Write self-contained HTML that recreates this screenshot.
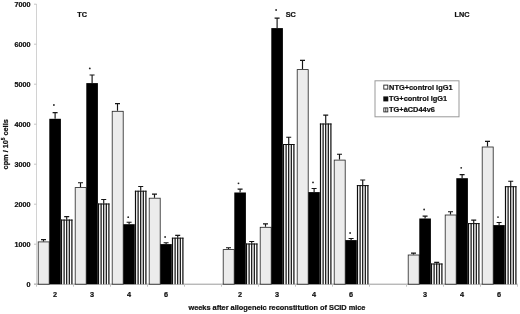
<!DOCTYPE html>
<html><head><meta charset="utf-8"><title>chart</title>
<style>
html,body{margin:0;padding:0;background:#fff;}
body{width:520px;height:314px;overflow:hidden;}
svg{display:block;}
text{font-family:"Liberation Sans",Arial,sans-serif;font-weight:bold;fill:#111;stroke:#111;stroke-width:0.22px;}
</style></head><body>
<svg width="520" height="314" viewBox="0 0 520 314">
<defs>
<filter id="bl" x="-5%" y="-5%" width="110%" height="110%"><feGaussianBlur stdDeviation="0.35"/></filter>
</defs>
<rect width="520" height="314" fill="#fff"/>
<g filter="url(#bl)">

<line x1="36.5" y1="4" x2="36.5" y2="284.2" stroke="#d2d2d2" stroke-width="1"/>
<line x1="34.0" y1="284.2" x2="517.5" y2="284.2" stroke="#9a9a9a" stroke-width="1"/>
<line x1="34.0" y1="284.2" x2="36.5" y2="284.2" stroke="#c4c4c4" stroke-width="1"/>
<text x="30.6" y="286.6" font-size="7.2" text-anchor="end">0</text>
<line x1="34.0" y1="244.2" x2="36.5" y2="244.2" stroke="#c4c4c4" stroke-width="1"/>
<text x="30.6" y="246.6" font-size="7.2" text-anchor="end">1000</text>
<line x1="34.0" y1="204.2" x2="36.5" y2="204.2" stroke="#c4c4c4" stroke-width="1"/>
<text x="30.6" y="206.6" font-size="7.2" text-anchor="end">2000</text>
<line x1="34.0" y1="164.2" x2="36.5" y2="164.2" stroke="#c4c4c4" stroke-width="1"/>
<text x="30.6" y="166.6" font-size="7.2" text-anchor="end">3000</text>
<line x1="34.0" y1="124.2" x2="36.5" y2="124.2" stroke="#c4c4c4" stroke-width="1"/>
<text x="30.6" y="126.6" font-size="7.2" text-anchor="end">4000</text>
<line x1="34.0" y1="84.2" x2="36.5" y2="84.2" stroke="#c4c4c4" stroke-width="1"/>
<text x="30.6" y="86.6" font-size="7.2" text-anchor="end">5000</text>
<line x1="34.0" y1="44.2" x2="36.5" y2="44.2" stroke="#c4c4c4" stroke-width="1"/>
<text x="30.6" y="46.6" font-size="7.2" text-anchor="end">6000</text>
<line x1="34.0" y1="4.2" x2="36.5" y2="4.2" stroke="#c4c4c4" stroke-width="1"/>
<text x="30.6" y="6.6" font-size="7.2" text-anchor="end">7000</text>
<line x1="36.5" y1="284.2" x2="36.5" y2="286.7" stroke="#c4c4c4" stroke-width="1"/>
<line x1="73.5" y1="284.2" x2="73.5" y2="286.7" stroke="#c4c4c4" stroke-width="1"/>
<line x1="110.5" y1="284.2" x2="110.5" y2="286.7" stroke="#c4c4c4" stroke-width="1"/>
<line x1="147.5" y1="284.2" x2="147.5" y2="286.7" stroke="#c4c4c4" stroke-width="1"/>
<line x1="184.5" y1="284.2" x2="184.5" y2="286.7" stroke="#c4c4c4" stroke-width="1"/>
<line x1="221.5" y1="284.2" x2="221.5" y2="286.7" stroke="#c4c4c4" stroke-width="1"/>
<line x1="258.5" y1="284.2" x2="258.5" y2="286.7" stroke="#c4c4c4" stroke-width="1"/>
<line x1="295.5" y1="284.2" x2="295.5" y2="286.7" stroke="#c4c4c4" stroke-width="1"/>
<line x1="332.5" y1="284.2" x2="332.5" y2="286.7" stroke="#c4c4c4" stroke-width="1"/>
<line x1="369.5" y1="284.2" x2="369.5" y2="286.7" stroke="#c4c4c4" stroke-width="1"/>
<line x1="406.5" y1="284.2" x2="406.5" y2="286.7" stroke="#c4c4c4" stroke-width="1"/>
<line x1="443.5" y1="284.2" x2="443.5" y2="286.7" stroke="#c4c4c4" stroke-width="1"/>
<line x1="480.5" y1="284.2" x2="480.5" y2="286.7" stroke="#c4c4c4" stroke-width="1"/>
<line x1="517.5" y1="284.2" x2="517.5" y2="286.7" stroke="#c4c4c4" stroke-width="1"/>
<rect x="38.20" y="241.90" width="11.00" height="42.30" fill="#ececec" stroke="#222" stroke-width="0.8"/>
<path d="M43.50 241.40V239.60M41.00 239.60H46.00" stroke="#151515" stroke-width="1.15" fill="none"/>
<rect x="49.30" y="118.80" width="11.60" height="165.40" fill="#050505"/>
<path d="M55.10 118.80V112.60M52.60 112.60H57.60" stroke="#151515" stroke-width="1.15" fill="none"/>
<rect x="60.90" y="219.60" width="11.60" height="64.60" fill="#fff"/>
<path d="M61.50 219.60V284.2M64.10 219.60V284.2M66.70 219.60V284.2M69.30 219.60V284.2M71.90 219.60V284.2" stroke="#0a0a0a" stroke-width="1.2" fill="none"/>
<path d="M60.90 220.10H72.50" stroke="#111" stroke-width="1" fill="none"/>
<path d="M66.70 219.60V216.60M64.20 216.60H69.20" stroke="#151515" stroke-width="1.15" fill="none"/>
<circle cx="53.9" cy="105" r="0.9" fill="#222"/>
<text x="55.0" y="296.6" font-size="7.3" text-anchor="middle">2</text>
<rect x="75.20" y="187.60" width="11.00" height="96.60" fill="#ececec" stroke="#222" stroke-width="0.8"/>
<path d="M80.50 187.10V182.70M78.00 182.70H83.00" stroke="#151515" stroke-width="1.15" fill="none"/>
<rect x="86.30" y="83.10" width="11.60" height="201.10" fill="#050505"/>
<path d="M92.10 83.10V75.00M89.60 75.00H94.60" stroke="#151515" stroke-width="1.15" fill="none"/>
<rect x="97.90" y="203.50" width="11.60" height="80.70" fill="#fff"/>
<path d="M98.50 203.50V284.2M101.10 203.50V284.2M103.70 203.50V284.2M106.30 203.50V284.2M108.90 203.50V284.2" stroke="#0a0a0a" stroke-width="1.2" fill="none"/>
<path d="M97.90 204.00H109.50" stroke="#111" stroke-width="1" fill="none"/>
<path d="M103.70 203.50V199.50M101.20 199.50H106.20" stroke="#151515" stroke-width="1.15" fill="none"/>
<circle cx="89.8" cy="68.4" r="0.9" fill="#222"/>
<text x="92.0" y="296.6" font-size="7.3" text-anchor="middle">3</text>
<rect x="112.20" y="111.30" width="11.00" height="172.90" fill="#ececec" stroke="#222" stroke-width="0.8"/>
<path d="M117.50 110.80V103.60M115.00 103.60H120.00" stroke="#151515" stroke-width="1.15" fill="none"/>
<rect x="123.30" y="224.20" width="11.60" height="60.00" fill="#050505"/>
<path d="M129.10 224.20V222.20M126.60 222.20H131.60" stroke="#151515" stroke-width="1.15" fill="none"/>
<rect x="134.90" y="190.70" width="11.60" height="93.50" fill="#fff"/>
<path d="M135.50 190.70V284.2M138.10 190.70V284.2M140.70 190.70V284.2M143.30 190.70V284.2M145.90 190.70V284.2" stroke="#0a0a0a" stroke-width="1.2" fill="none"/>
<path d="M134.90 191.20H146.50" stroke="#111" stroke-width="1" fill="none"/>
<path d="M140.70 190.70V186.50M138.20 186.50H143.20" stroke="#151515" stroke-width="1.15" fill="none"/>
<circle cx="128.2" cy="217.2" r="0.9" fill="#222"/>
<text x="129.0" y="296.6" font-size="7.3" text-anchor="middle">4</text>
<rect x="149.20" y="198.20" width="11.00" height="86.00" fill="#ececec" stroke="#222" stroke-width="0.8"/>
<path d="M154.50 197.70V194.10M152.00 194.10H157.00" stroke="#151515" stroke-width="1.15" fill="none"/>
<rect x="160.30" y="244.10" width="11.60" height="40.10" fill="#050505"/>
<path d="M166.10 244.10V242.70M163.60 242.70H168.60" stroke="#151515" stroke-width="1.15" fill="none"/>
<rect x="171.90" y="237.65" width="11.60" height="46.55" fill="#fff"/>
<path d="M172.50 237.65V284.2M175.10 237.65V284.2M177.70 237.65V284.2M180.30 237.65V284.2M182.90 237.65V284.2" stroke="#0a0a0a" stroke-width="1.2" fill="none"/>
<path d="M171.90 238.15H183.50" stroke="#111" stroke-width="1" fill="none"/>
<path d="M177.70 237.65V235.40M175.20 235.40H180.20" stroke="#151515" stroke-width="1.15" fill="none"/>
<circle cx="165.1" cy="237" r="0.9" fill="#222"/>
<text x="166.0" y="296.6" font-size="7.3" text-anchor="middle">6</text>
<rect x="223.20" y="249.60" width="11.00" height="34.60" fill="#ececec" stroke="#222" stroke-width="0.8"/>
<path d="M228.50 249.10V247.70M226.00 247.70H231.00" stroke="#151515" stroke-width="1.15" fill="none"/>
<rect x="234.30" y="192.50" width="11.60" height="91.70" fill="#050505"/>
<path d="M240.10 192.50V189.10M237.60 189.10H242.60" stroke="#151515" stroke-width="1.15" fill="none"/>
<rect x="245.90" y="243.50" width="11.60" height="40.70" fill="#fff"/>
<path d="M246.50 243.50V284.2M249.10 243.50V284.2M251.70 243.50V284.2M254.30 243.50V284.2M256.90 243.50V284.2" stroke="#0a0a0a" stroke-width="1.2" fill="none"/>
<path d="M245.90 244.00H257.50" stroke="#111" stroke-width="1" fill="none"/>
<path d="M251.70 243.50V241.50M249.20 241.50H254.20" stroke="#151515" stroke-width="1.15" fill="none"/>
<circle cx="238.5" cy="183.3" r="0.9" fill="#222"/>
<text x="240.0" y="296.6" font-size="7.3" text-anchor="middle">2</text>
<rect x="260.20" y="227.30" width="11.00" height="56.90" fill="#ececec" stroke="#222" stroke-width="0.8"/>
<path d="M265.50 226.80V223.80M263.00 223.80H268.00" stroke="#151515" stroke-width="1.15" fill="none"/>
<rect x="271.30" y="28.10" width="11.60" height="256.10" fill="#050505"/>
<path d="M277.10 28.10V18.10M274.60 18.10H279.60" stroke="#151515" stroke-width="1.15" fill="none"/>
<rect x="282.90" y="144.00" width="11.60" height="140.20" fill="#fff"/>
<path d="M283.50 144.00V284.2M286.10 144.00V284.2M288.70 144.00V284.2M291.30 144.00V284.2M293.90 144.00V284.2" stroke="#0a0a0a" stroke-width="1.2" fill="none"/>
<path d="M282.90 144.50H294.50" stroke="#111" stroke-width="1" fill="none"/>
<path d="M288.70 144.00V137.20M286.20 137.20H291.20" stroke="#151515" stroke-width="1.15" fill="none"/>
<circle cx="276.1" cy="10" r="0.9" fill="#222"/>
<text x="277.0" y="296.6" font-size="7.3" text-anchor="middle">3</text>
<rect x="297.20" y="69.60" width="11.00" height="214.60" fill="#ececec" stroke="#222" stroke-width="0.8"/>
<path d="M302.50 69.10V60.40M300.00 60.40H305.00" stroke="#151515" stroke-width="1.15" fill="none"/>
<rect x="308.30" y="192.10" width="11.60" height="92.10" fill="#050505"/>
<path d="M314.10 192.10V188.50M311.60 188.50H316.60" stroke="#151515" stroke-width="1.15" fill="none"/>
<rect x="319.90" y="123.50" width="11.60" height="160.70" fill="#fff"/>
<path d="M320.50 123.50V284.2M323.10 123.50V284.2M325.70 123.50V284.2M328.30 123.50V284.2M330.90 123.50V284.2" stroke="#0a0a0a" stroke-width="1.2" fill="none"/>
<path d="M319.90 124.00H331.50" stroke="#111" stroke-width="1" fill="none"/>
<path d="M325.70 123.50V115.10M323.20 115.10H328.20" stroke="#151515" stroke-width="1.15" fill="none"/>
<circle cx="313" cy="182.4" r="0.9" fill="#222"/>
<text x="314.0" y="296.6" font-size="7.3" text-anchor="middle">4</text>
<rect x="334.20" y="160.10" width="11.00" height="124.10" fill="#ececec" stroke="#222" stroke-width="0.8"/>
<path d="M339.50 159.60V154.20M337.00 154.20H342.00" stroke="#151515" stroke-width="1.15" fill="none"/>
<rect x="345.30" y="240.10" width="11.60" height="44.10" fill="#050505"/>
<path d="M351.10 240.10V238.50M348.60 238.50H353.60" stroke="#151515" stroke-width="1.15" fill="none"/>
<rect x="356.90" y="185.10" width="11.60" height="99.10" fill="#fff"/>
<path d="M357.50 185.10V284.2M360.10 185.10V284.2M362.70 185.10V284.2M365.30 185.10V284.2M367.90 185.10V284.2" stroke="#0a0a0a" stroke-width="1.2" fill="none"/>
<path d="M356.90 185.60H368.50" stroke="#111" stroke-width="1" fill="none"/>
<path d="M362.70 185.10V180.00M360.20 180.00H365.20" stroke="#151515" stroke-width="1.15" fill="none"/>
<circle cx="350.1" cy="233" r="0.9" fill="#222"/>
<text x="351.0" y="296.6" font-size="7.3" text-anchor="middle">6</text>
<rect x="408.20" y="255.00" width="11.00" height="29.20" fill="#ececec" stroke="#222" stroke-width="0.8"/>
<path d="M413.50 254.50V253.10M411.00 253.10H416.00" stroke="#151515" stroke-width="1.15" fill="none"/>
<rect x="419.30" y="218.50" width="11.60" height="65.70" fill="#050505"/>
<path d="M425.10 218.50V216.10M422.60 216.10H427.60" stroke="#151515" stroke-width="1.15" fill="none"/>
<rect x="430.90" y="263.50" width="11.60" height="20.70" fill="#fff"/>
<path d="M431.50 263.50V284.2M434.10 263.50V284.2M436.70 263.50V284.2M439.30 263.50V284.2M441.90 263.50V284.2" stroke="#0a0a0a" stroke-width="1.2" fill="none"/>
<path d="M430.90 264.00H442.50" stroke="#111" stroke-width="1" fill="none"/>
<path d="M436.70 263.50V262.30M434.20 262.30H439.20" stroke="#151515" stroke-width="1.15" fill="none"/>
<circle cx="424.1" cy="209.5" r="0.9" fill="#222"/>
<text x="425.0" y="296.6" font-size="7.3" text-anchor="middle">3</text>
<rect x="445.20" y="215.00" width="11.00" height="69.20" fill="#ececec" stroke="#222" stroke-width="0.8"/>
<path d="M450.50 214.50V211.70M448.00 211.70H453.00" stroke="#151515" stroke-width="1.15" fill="none"/>
<rect x="456.30" y="178.20" width="11.60" height="106.00" fill="#050505"/>
<path d="M462.10 178.20V174.60M459.60 174.60H464.60" stroke="#151515" stroke-width="1.15" fill="none"/>
<rect x="467.90" y="223.10" width="11.60" height="61.10" fill="#fff"/>
<path d="M468.50 223.10V284.2M471.10 223.10V284.2M473.70 223.10V284.2M476.30 223.10V284.2M478.90 223.10V284.2" stroke="#0a0a0a" stroke-width="1.2" fill="none"/>
<path d="M467.90 223.60H479.50" stroke="#111" stroke-width="1" fill="none"/>
<path d="M473.70 223.10V220.10M471.20 220.10H476.20" stroke="#151515" stroke-width="1.15" fill="none"/>
<circle cx="461.2" cy="167.8" r="0.9" fill="#222"/>
<text x="462.0" y="296.6" font-size="7.3" text-anchor="middle">4</text>
<rect x="482.20" y="147.00" width="11.00" height="137.20" fill="#ececec" stroke="#222" stroke-width="0.8"/>
<path d="M487.50 146.50V141.40M485.00 141.40H490.00" stroke="#151515" stroke-width="1.15" fill="none"/>
<rect x="493.30" y="225.10" width="11.60" height="59.10" fill="#050505"/>
<path d="M499.10 225.10V222.50M496.60 222.50H501.60" stroke="#151515" stroke-width="1.15" fill="none"/>
<rect x="504.90" y="186.20" width="11.60" height="98.00" fill="#fff"/>
<path d="M505.50 186.20V284.2M508.10 186.20V284.2M510.70 186.20V284.2M513.30 186.20V284.2M515.90 186.20V284.2" stroke="#0a0a0a" stroke-width="1.2" fill="none"/>
<path d="M504.90 186.70H516.50" stroke="#111" stroke-width="1" fill="none"/>
<path d="M510.70 186.20V181.20M508.20 181.20H513.20" stroke="#151515" stroke-width="1.15" fill="none"/>
<circle cx="498" cy="217.1" r="0.9" fill="#222"/>
<text x="499.0" y="296.6" font-size="7.3" text-anchor="middle">6</text>
<text x="77.3" y="17.2" font-size="7.3">TC</text>
<text x="285.7" y="17" font-size="7.3">SC</text>
<text x="454.6" y="17.2" font-size="7.3">LNC</text>
<text x="188.4" y="310.0" font-size="7.38">weeks after allogeneic reconstitution of SCID mice</text>
<text transform="translate(8.0,169.4) rotate(-90)" font-size="7.3">cpm / 10<tspan font-size="4.8" dy="-3.4">5</tspan><tspan dy="3.4"> cells</tspan></text>
<rect x="375" y="80.8" width="84" height="36" fill="#fff" stroke="#999" stroke-width="1"/>
<rect x="383.8" y="85.1" width="4" height="4" fill="#fff" stroke="#222" stroke-width="0.9"/>
<rect x="383.3" y="96.4" width="5" height="5" fill="#111"/>
<rect x="383.8" y="107.9" width="4" height="4" fill="#fff" stroke="#222" stroke-width="0.9"/><line x1="385.8" y1="107.9" x2="385.8" y2="111.9" stroke="#222" stroke-width="0.9"/>
<text x="389.1" y="89.6" font-size="7.4">NTG+control IgG1</text>
<text x="389.1" y="101.0" font-size="7.4">TG+control IgG1</text>
<text x="389.1" y="112.3" font-size="7.4">TG+àCD44v6</text>
</g></svg></body></html>
